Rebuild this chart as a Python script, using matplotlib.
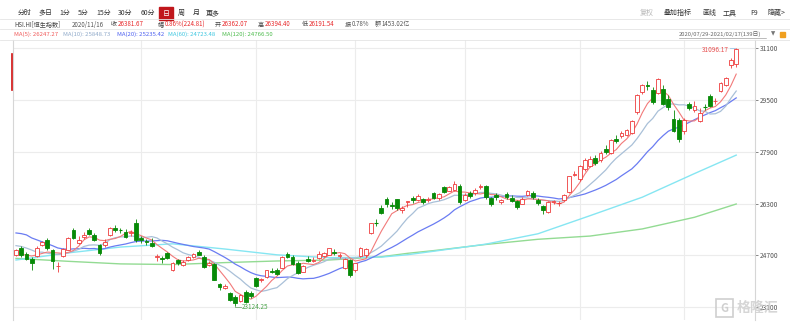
import numpy as np
import pandas as pd
import matplotlib
matplotlib.use("Agg")
import matplotlib.pyplot as plt
from matplotlib.lines import Line2D
from matplotlib.patches import Rectangle

plt.rcParams['font.family'] = ['Noto Sans CJK SC', 'DejaVu Sans']

# HSI daily candles 2020/07/29 - 2021/02/17 (139 days)
opens = [24720, 24940, 24745, 24590, 24680, 25030, 25180, 24870, 24360, 24670,
         24880, 25490, 25090, 25280, 25490, 25330, 25020, 25020, 25330, 25560,
         25500, 25440, 25400, 25690, 25250, 25140, 25080, 24660, 24620, 24780,
         24250, 24560, 24420, 24560, 24650, 24800, 24660, 24400, 24450, 23820,
         23700, 23530, 23430, 23290, 23570, 23540, 24010, 23940, 24050, 24230,
         24240, 24320, 24760, 24650, 24480, 24200, 24600, 24540, 24620, 24670,
         24720, 24820, 24670, 24300, 24560, 24250, 24670, 24700, 25400, 25720,
         26165, 26445, 26260, 26445, 26100, 26362, 26470, 26420, 26450, 26400,
         26620, 26470, 26800, 26700, 26720, 26850, 26420, 26630, 26620, 26800,
         26850, 26480, 26560, 26350, 26600, 26490, 26395, 26300, 26570, 26630,
         26410, 26230, 26050, 26350, 26300, 26410, 26670, 27180, 27060, 27370,
         27465, 27710, 27650, 27990, 27875, 28300, 28390, 28420, 28485, 29130,
         29760, 29980, 29810, 29710, 29855, 29545, 28915, 28885, 28545, 29380,
         29200, 28850, 29300, 29627, 29460, 29790, 29970, 30585, 30615]
highs = [24900, 25000, 24800, 24650, 24990, 25160, 25230, 24900, 24500, 24930,
         25280, 25560, 25300, 25440, 25560, 25400, 25060, 25200, 25580, 25640,
         25560, 25520, 25500, 25840, 25300, 25220, 25250, 24760, 24680, 24820,
         24500, 24600, 24560, 24680, 24780, 24880, 24700, 24520, 24470, 23860,
         23830, 23560, 23480, 23510, 23620, 23600, 24040, 24010, 24260, 24300,
         24320, 24680, 24800, 24700, 24520, 24420, 24680, 24640, 24830, 24800,
         24940, 24900, 24780, 24620, 24600, 24480, 24960, 24930, 25710, 25840,
         26250, 26520, 26350, 26460, 26240, 26394, 26530, 26600, 26480, 26500,
         26660, 26620, 26860, 26860, 27000, 26900, 26620, 26700, 26780, 26900,
         26880, 26520, 26620, 26450, 26650, 26560, 26420, 26500, 26720, 26700,
         26480, 26260, 26380, 26420, 26380, 26600, 27170, 27300, 27500, 27700,
         27760, 27800, 27920, 28100, 28300, 28420, 28540, 28620, 28900, 29700,
         29990, 30100, 29900, 30190, 29960, 29650, 29190, 28950, 28950, 29440,
         29480, 29250, 29380, 29700, 29560, 30070, 30200, 30800, 31096.17]
lows = [24680, 24660, 24560, 24260, 24640, 24980, 24880, 24280, 24200, 24640,
        24860, 25200, 25050, 25220, 25330, 25150, 24720, 24960, 25300, 25440,
        25380, 25240, 25300, 25130, 25080, 25030, 24960, 24540, 24480, 24580,
        24220, 24400, 24380, 24530, 24620, 24700, 24300, 24370, 23930, 23620,
        23650, 23290, 23124.25, 23260, 23230, 23400, 23720, 23880, 24000, 24150,
        24100, 24300, 24620, 24400, 24130, 24180, 24500, 24490, 24600, 24640,
        24700, 24720, 24630, 24280, 24030, 24200, 24640, 24650, 25350, 25620,
        25980, 26200, 26150, 26100, 26000, 26192, 26330, 26380, 26280, 26340,
        26430, 26400, 26620, 26680, 26700, 26300, 26380, 26480, 26560, 26740,
        26450, 26230, 26400, 26280, 26450, 26350, 26150, 26280, 26540, 26450,
        26270, 25980, 26000, 26300, 26240, 26380, 26640, 27140, 27000, 27300,
        27420, 27500, 27600, 27850, 27850, 28180, 28340, 28380, 28460, 29080,
        29700, 29820, 29380, 29680, 29350, 29200, 28500, 28200, 28450, 29200,
        29120, 28820, 29200, 29280, 29380, 29760, 29950, 30500, 30530]
closes = [24883, 24710, 24595, 24458, 24946, 25102, 24930, 24531, 24377, 24890,
          25244, 25230, 25183, 25347, 25367, 25178, 24791, 25113, 25551, 25486,
          25491, 25281, 25422, 25177, 25185, 25120, 25007, 24695, 24589, 24624,
          24469, 24468, 24503, 24640, 24732, 24725, 24340, 24455, 23950, 23716,
          23742, 23311, 23235, 23476, 23275, 23459, 23767, 23980, 24243, 24193,
          24119, 24650, 24667, 24440, 24158, 24386, 24542, 24569, 24754, 24786,
          24918, 24787, 24709, 24586, 24107, 24460, 24939, 24886, 25695, 25712,
          26016, 26301, 26227, 26170, 26157, 26382, 26415, 26544, 26356, 26451,
          26486, 26588, 26669, 26819, 26894, 26341, 26567, 26532, 26728, 26835,
          26506, 26304, 26502, 26410, 26505, 26389, 26207, 26460, 26678, 26498,
          26306, 26119, 26343, 26386, 26314, 26568, 27147, 27231, 27472, 27649,
          27692, 27548, 27878, 27908, 28276, 28235, 28497, 28573, 28862, 29642,
          29962, 29927, 29447, 30159, 29391, 29297, 28550, 28284, 28893, 29249,
          29307, 29114, 29289, 29319, 29476, 30039, 30173, 30746, 31080]
# closes of the 19 sessions before 2020/07/29 (warm-up for MA5/10/20)
prev_closes = [25124, 25373, 26340, 26130, 26240, 26210, 25727, 25773, 25477, 25482,
               24971, 25089, 25058, 25636, 25058, 25263, 24705, 24604, 24772]

# long averages at sample sessions
ma_idx = [0, 10, 20, 30, 40, 50, 60, 70, 75, 80, 90, 100, 110, 120, 130, 138]
ma60 = [24560, 24780, 24960, 25060, 24900, 24720, 24630, 24650, 24723, 24830,
        25050, 25370, 25930, 26500, 27230, 27800]
ma120 = [24610, 24520, 24440, 24420, 24480, 24530, 24560, 24660, 24766, 24850,
         25040, 25200, 25300, 25520, 25880, 26290]

month_start_idx = [24, 46, 65, 86, 108, 128]  # 9/1 10/5 11/2 12/1 1/4 2/1
yticks = [31100, 29500, 27900, 26300, 24700, 23100]

UP = "#ee3b3b"
DOWN = "#078a07"
W, H = 790, 325


def fx(px):
    return px / W


def fy(py):
    return 1 - py / H


fig = plt.figure(figsize=(7.9, 3.25), dpi=100)
fig.patch.set_facecolor("white")

# ---- toolbar -------------------------------------------------------------
tb = [("分时", 18), ("多日", 38), ("1分", 59), ("5分", 78), ("15分", 96),
      ("30分", 118), ("60分", 141), ("周", 178), ("月", 193), ("更多", 206)]
for t, x in tb:
    fig.text(fx(x), fy(13), t, fontsize=5, color="#333333", va="center")
fig.add_artist(Rectangle((fx(159), fy(19.5)), fx(14), 12 / H, color="#c0171c",
                         transform=fig.transFigure))
fig.text(fx(166), fy(13.5), "日", fontsize=5, color="white", va="center", ha="center")
rt = [("复权", 640, "#b8b8b8"), ("叠加指标", 664, "#333333"), ("画线", 702, "#333333"),
      ("工具", 723, "#333333"), ("F9", 750, "#333333"), ("隐藏>", 767, "#333333")]
for t, x, c in rt:
    fig.text(fx(x), fy(13), t, fontsize=5, color=c, va="center")

for yy in (19, 29, 40):
    fig.add_artist(Line2D([0, 1], [fy(yy), fy(yy)], color="#e4e4e4", lw=0.6,
                          transform=fig.transFigure))

# ---- header info line ----------------------------------------------------
red = "#e8282a"
info = [("HSI.HI[恒生指数]", 14, "#444444"), ("2020/11/16", 72, "#555555"),
        ("收", 111, "#444444"), ("26381.67", 118, red), ("幅", 158, "#444444"),
        ("0.86%(224.81)", 165, red), ("开", 215, "#444444"), ("26362.07", 222, red),
        ("高", 258, "#444444"), ("26394.40", 265, red), ("低", 302, "#444444"),
        ("26191.54", 309, red), ("振", 345, "#444444"), ("0.78%", 352, "#555555"),
        ("额", 375, "#444444"), ("1453.02亿", 382, "#555555")]
for t, x, c in info:
    fig.text(fx(x), fy(24.5), t, fontsize=4.4, color=c, va="center")

ma_txt = [("MA(5): 26247.27", 14, "#f05a5a"), ("MA(10): 25848.73", 63, "#8fa9c9"),
          ("MA(20): 25235.42", 117, "#4b5ff0"), ("MA(60): 24723.48", 168, "#3cc6e0"),
          ("MA(120): 24766.50", 222, "#4cbb4c")]
for t, x, c in ma_txt:
    fig.text(fx(x), fy(34), t, fontsize=4.3, color=c, va="center")

fig.text(fx(679), fy(34), "2020/07/29-2021/02/17(139日)", fontsize=4.2,
         color="#666666", va="center")
fig.add_artist(Line2D([fx(679), fx(766)], [fy(38), fy(38)], color="#888888", lw=0.4,
                      transform=fig.transFigure))
fig.text(fx(771), fy(34), "▼", fontsize=4, color="#777777", va="center",
         family=["DejaVu Sans"])
fig.add_artist(Rectangle((fx(780), fy(37)), fx(5), 5 / H, color="#f0a020",
                         transform=fig.transFigure))

# red marker on left edge
fig.add_artist(Line2D([fx(12), fx(12)], [fy(54), fy(90)], color="#d01010", lw=1.2,
                      transform=fig.transFigure))

# ---- main chart ------------------------------------------------------------
ax = fig.add_axes([fx(13), fy(320), fx(742), 280 / H])
ax.set_xlim(-0.575, 141.6)
ax.set_ylim(22707, 31356)

for y in yticks:
    ax.axhline(y, color="#ececec", lw=0.8, zorder=0)
for i in month_start_idx:
    ax.axvline(i, color="#ececec", lw=0.8, zorder=0)

n = len(closes)
xs = np.arange(n)

# moving averages
full = pd.Series(prev_closes + closes, dtype=float)
ma5 = full.rolling(5).mean().values[len(prev_closes):]
ma10 = full.rolling(10).mean().values[len(prev_closes):]
ma20 = full.rolling(20).mean().values[len(prev_closes):]

ax.plot(ma_idx, ma120, color="#93db93", lw=1.0, zorder=1)
ax.plot(ma_idx, ma60, color="#86e6f2", lw=1.0, zorder=1)
ax.plot(xs, ma20, color="#6a7cf2", lw=0.9, zorder=1)
ax.plot(xs, ma10, color="#a9c0d8", lw=0.9, zorder=1)
ax.plot(xs, ma5, color="#f27a7a", lw=0.8, zorder=1)

# candles
bw = 0.72
for i in range(n):
    o, h, l, c = opens[i], highs[i], lows[i], closes[i]
    col = UP if c >= o else DOWN
    ax.vlines(i, l, h, color=col, lw=0.6, zorder=2)
    if abs(c - o) < 15:
        ax.hlines((o + c) / 2, i - bw / 2, i + bw / 2, color=col, lw=0.8, zorder=3)
    else:
        face = "white" if c >= o else DOWN
        ax.bar(i, abs(c - o), bottom=min(o, c), width=bw, facecolor=face,
               edgecolor=col, linewidth=0.6, zorder=3)

# max / min labels
imax = int(np.argmax(highs))
imin = int(np.argmin(lows))
ax.plot([imax - 1.2, imax - 0.3], [highs[imax], highs[imax]], color="#9fc6e8", lw=0.6)
ax.text(imax - 1.4, highs[imax] - 60, f"{highs[imax]:.2f}", color="#e85050",
        fontsize=4.6, ha="right", va="center")
ax.plot([imin, imin, imin + 1.2], [lows[imin], lows[imin] - 30, lows[imin] - 30],
        color="#7aaa7a", lw=0.6)
ax.text(imin + 1.3, lows[imin] - 30, f"{lows[imin]:.2f}", color="#4aa34a",
        fontsize=4.6, ha="left", va="center")

ax.set_yticks(yticks)
ax.set_yticklabels([str(v) for v in yticks])
ax.yaxis.tick_right()
ax.tick_params(axis="y", labelsize=4.8, colors="#555555", length=2, width=0.5, pad=1.5)
ax.set_xticks([])
for s in ("top", "bottom"):
    ax.spines[s].set_visible(False)
for s in ("left", "right"):
    ax.spines[s].set_color("#d6d6d6")
    ax.spines[s].set_linewidth(0.8)

# watermark
fig.add_artist(Rectangle((fx(716), fy(317)), fx(17), 18 / H, fill=False,
                         edgecolor="#cfcfcf", lw=1.2, transform=fig.transFigure))
fig.text(fx(724.5), fy(308), "G", fontsize=8, color="#cfcfcf", ha="center",
         va="center", weight="bold")
fig.text(fx(737), fy(308), "格隆汇", fontsize=10, color="#d2d2d2", va="center",
         weight="bold", alpha=0.9)

fig.savefig("out.png", dpi=100)
